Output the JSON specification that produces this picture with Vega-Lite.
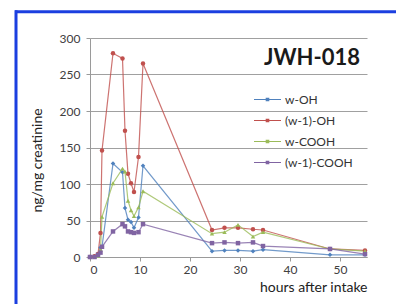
{
  "$schema": "https://vega.github.io/schema/vega-lite/v6.json",
  "width": 277,
  "height": 219,
  "autosize": {"type": "none"},
  "padding": {"left": 90, "top": 38, "right": 29, "bottom": 47},
  "background": "white",
  "config": {"font": "Lato", "view": {"stroke": null}},
  "data": {"values": [
    {"t": 0, "s": "w-OH", "v": 0}, {"t": 0.9, "s": "w-OH", "v": 1}, {"t": 1.6, "s": "w-OH", "v": 2}, {"t": 2.1, "s": "w-OH", "v": 13}, {"t": 2.4, "s": "w-OH", "v": 14}, {"t": 4.6, "s": "w-OH", "v": 128}, {"t": 6.5, "s": "w-OH", "v": 116}, {"t": 7.0, "s": "w-OH", "v": 67}, {"t": 7.6, "s": "w-OH", "v": 51}, {"t": 8.2, "s": "w-OH", "v": 48}, {"t": 8.8, "s": "w-OH", "v": 40}, {"t": 9.7, "s": "w-OH", "v": 54}, {"t": 10.6, "s": "w-OH", "v": 125}, {"t": 24.4, "s": "w-OH", "v": 8}, {"t": 26.9, "s": "w-OH", "v": 9}, {"t": 29.6, "s": "w-OH", "v": 9}, {"t": 32.6, "s": "w-OH", "v": 8}, {"t": 34.6, "s": "w-OH", "v": 10}, {"t": 48, "s": "w-OH", "v": 3}, {"t": 55, "s": "w-OH", "v": 3},
    {"t": 0, "s": "(w-1)-OH", "v": 0}, {"t": 0.9, "s": "(w-1)-OH", "v": 1}, {"t": 1.6, "s": "(w-1)-OH", "v": 4}, {"t": 2.1, "s": "(w-1)-OH", "v": 33}, {"t": 2.4, "s": "(w-1)-OH", "v": 146}, {"t": 4.6, "s": "(w-1)-OH", "v": 279}, {"t": 6.5, "s": "(w-1)-OH", "v": 272}, {"t": 7.0, "s": "(w-1)-OH", "v": 173}, {"t": 7.6, "s": "(w-1)-OH", "v": 114}, {"t": 8.2, "s": "(w-1)-OH", "v": 101}, {"t": 8.8, "s": "(w-1)-OH", "v": 89}, {"t": 9.7, "s": "(w-1)-OH", "v": 137}, {"t": 10.6, "s": "(w-1)-OH", "v": 265}, {"t": 24.4, "s": "(w-1)-OH", "v": 37}, {"t": 26.9, "s": "(w-1)-OH", "v": 40}, {"t": 29.6, "s": "(w-1)-OH", "v": 40}, {"t": 32.6, "s": "(w-1)-OH", "v": 38}, {"t": 34.6, "s": "(w-1)-OH", "v": 37}, {"t": 48, "s": "(w-1)-OH", "v": 11}, {"t": 55, "s": "(w-1)-OH", "v": 9},
    {"t": 0, "s": "w-COOH", "v": 0}, {"t": 0.9, "s": "w-COOH", "v": 0}, {"t": 1.6, "s": "w-COOH", "v": 2}, {"t": 2.1, "s": "w-COOH", "v": 10}, {"t": 2.4, "s": "w-COOH", "v": 55}, {"t": 4.6, "s": "w-COOH", "v": 101}, {"t": 6.5, "s": "w-COOH", "v": 121}, {"t": 7.0, "s": "w-COOH", "v": 117}, {"t": 7.6, "s": "w-COOH", "v": 77}, {"t": 8.2, "s": "w-COOH", "v": 64}, {"t": 8.8, "s": "w-COOH", "v": 56}, {"t": 9.7, "s": "w-COOH", "v": 68}, {"t": 10.6, "s": "w-COOH", "v": 90}, {"t": 24.4, "s": "w-COOH", "v": 32}, {"t": 26.9, "s": "w-COOH", "v": 34}, {"t": 29.6, "s": "w-COOH", "v": 44}, {"t": 32.6, "s": "w-COOH", "v": 28}, {"t": 34.6, "s": "w-COOH", "v": 34}, {"t": 48, "s": "w-COOH", "v": 11}, {"t": 55, "s": "w-COOH", "v": 8},
    {"t": 0, "s": "(w-1)-COOH", "v": 0}, {"t": 0.9, "s": "(w-1)-COOH", "v": 0}, {"t": 1.6, "s": "(w-1)-COOH", "v": 3}, {"t": 2.1, "s": "(w-1)-COOH", "v": 6}, {"t": 2.4, "s": "(w-1)-COOH", "v": 14}, {"t": 4.6, "s": "(w-1)-COOH", "v": 35}, {"t": 6.5, "s": "(w-1)-COOH", "v": 45}, {"t": 7.0, "s": "(w-1)-COOH", "v": 42}, {"t": 7.6, "s": "(w-1)-COOH", "v": 35}, {"t": 8.2, "s": "(w-1)-COOH", "v": 34}, {"t": 8.8, "s": "(w-1)-COOH", "v": 33}, {"t": 9.7, "s": "(w-1)-COOH", "v": 34}, {"t": 10.6, "s": "(w-1)-COOH", "v": 45}, {"t": 24.4, "s": "(w-1)-COOH", "v": 19}, {"t": 26.9, "s": "(w-1)-COOH", "v": 20}, {"t": 29.6, "s": "(w-1)-COOH", "v": 19}, {"t": 32.6, "s": "(w-1)-COOH", "v": 20}, {"t": 34.6, "s": "(w-1)-COOH", "v": 15}, {"t": 48, "s": "(w-1)-COOH", "v": 11}, {"t": 55, "s": "(w-1)-COOH", "v": 4}
  ]},
  "resolve": {"scale": {"x": "independent", "y": "independent"}, "legend": {"color": "independent", "shape": "independent"}},
  "layer": [
    {
      "mark": {"type": "line", "strokeWidth": 1.2, "opacity": 0.8},
      "encoding": {
        "x": {"field": "t", "type": "quantitative", "scale": {"domain": [0, 55.4], "nice": false, "zero": false},
          "axis": {"values": [0, 10, 20, 30, 40, 50], "title": "hours after intake", "grid": false, "domainColor": "#9a9a9a", "tickColor": "#9a9a9a", "tickSize": 4, "labelFontSize": 12, "labelColor": "#404040", "labelPadding": 3, "titleFontSize": 14, "titleFontWeight": "normal", "titleColor": "#222222", "titleX": 277, "titleY": 30, "titleAlign": "right", "titleBaseline": "middle"}},
        "y": {"field": "v", "type": "quantitative", "scale": {"domain": [0, 300], "nice": false, "zero": false},
          "axis": {"values": [0, 50, 100, 150, 200, 250, 300], "title": "ng/mg creatinine", "grid": true, "gridColor": "#a0a0a0", "domainColor": "#9a9a9a", "tickColor": "#9a9a9a", "tickSize": 4, "labelPadding": 6, "labelFontSize": 12, "labelColor": "#404040", "labelOverlap": false, "titleFontSize": 14, "titleFontWeight": "normal", "titleColor": "#222222", "titleX": -53, "titleY": 122, "titleAngle": -90, "titleAlign": "center", "titleBaseline": "middle"}},
        "color": {"field": "s", "type": "nominal",
          "scale": {"domain": ["w-OH", "(w-1)-OH", "w-COOH", "(w-1)-COOH"], "range": ["#4f81bd", "#c0504d", "#9bbb59", "#8064a2"]},
          "legend": {"orient": "none", "legendX": 163, "legendY": 47, "title": null, "padding": 0, "symbolSize": 729, "symbolType": "M-1,0H1M-0.09,-0.09H0.09V0.09H-0.09Z", "labelFontSize": 12, "labelColor": "#333333", "labelOffset": 3, "rowPadding": -1, "symbolStrokeWidth": 1.2, "symbolOpacity": 1}
        }
      }
    },
    {
      "mark": {"type": "point", "filled": true, "size": 20, "opacity": 1},
      "encoding": {
        "x": {"field": "t", "type": "quantitative", "scale": {"domain": [0, 55.4], "nice": false, "zero": false}, "axis": null},
        "y": {"field": "v", "type": "quantitative", "scale": {"domain": [0, 300], "nice": false, "zero": false}, "axis": null},
        "color": {"field": "s", "type": "nominal", "legend": null},
        "shape": {"field": "s", "type": "nominal", "scale": {"domain": ["w-OH", "(w-1)-OH", "w-COOH", "(w-1)-COOH"], "range": ["diamond", "circle", "triangle-up", "square"]}, "legend": null}
      }
    },
    {
      "data": {"values": [{"label": "JWH-018"}]},
      "mark": {"type": "text", "align": "right", "baseline": "alphabetic", "fontSize": 22, "fontWeight": "bold", "font": "Lato", "color": "#1a1a1a"},
      "encoding": {
        "x": {"datum": 54, "type": "quantitative", "scale": {"domain": [0, 55.4], "nice": false, "zero": false}, "axis": null},
        "y": {"datum": 263, "type": "quantitative", "scale": {"domain": [0, 300], "nice": false, "zero": false}, "axis": null},
        "text": {"field": "label"}}
    },
    {
      "data": {"values": [{}]},
      "mark": {"type": "rule", "color": "#1b3fe0", "strokeWidth": 3},
      "encoding": {
        "x": {"datum": -15, "type": "quantitative", "scale": {"domain": [0, 55.4], "nice": false, "zero": false}, "axis": null},
        "x2": {"datum": 62},
        "y": {"datum": 336, "type": "quantitative", "scale": {"domain": [0, 300], "nice": false, "zero": false}, "axis": null}}
    },
    {
      "data": {"values": [{}]},
      "mark": {"type": "rule", "color": "#1b3fe0", "strokeWidth": 3},
      "encoding": {
        "x": {"datum": -14.8, "type": "quantitative", "scale": {"domain": [0, 55.4], "nice": false, "zero": false}, "axis": null},
        "y": {"datum": 338, "type": "quantitative", "scale": {"domain": [0, 300], "nice": false, "zero": false}, "axis": null},
        "y2": {"datum": -75}}
    }
  ]
}
